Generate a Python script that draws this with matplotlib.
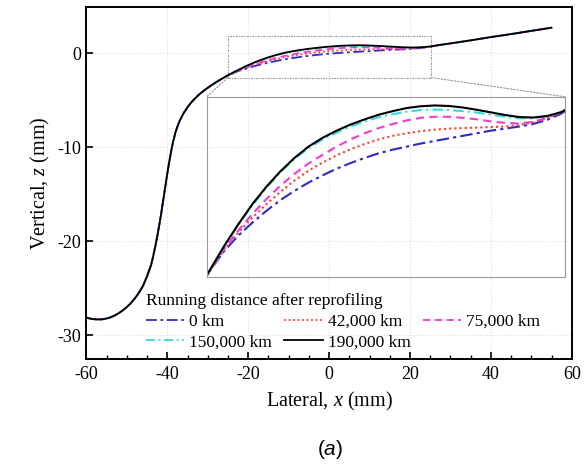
import numpy as np
import matplotlib
matplotlib.use("Agg")
import matplotlib.pyplot as plt
from matplotlib.patches import Rectangle, ConnectionPatch
from matplotlib.ticker import MultipleLocator

plt.rcParams['font.family'] = ['Liberation Serif', 'DejaVu Serif']
plt.rcParams['mathtext.fontset'] = 'custom'
plt.rcParams['mathtext.rm'] = 'Liberation Serif'
plt.rcParams['mathtext.it'] = 'Liberation Serif:italic'
plt.rcParams['mathtext.sf'] = 'Liberation Sans:italic'
plt.rcParams['axes.unicode_minus'] = False

# flange side, identical for all profiles
x_flange = [-60, -59, -58, -57, -56, -55, -54, -53, -52, -51, -50, -49, -48, -47,
            -46, -45, -44, -43.5, -43, -42.5, -42, -41.5, -41, -40.5, -40, -39.5,
            -39, -38.5, -38, -37.5, -37, -36, -35, -34, -33, -32, -31, -30, -29,
            -28, -27, -26]
z_flange = [-28.10, -28.22, -28.28, -28.30, -28.28, -28.20, -28.07, -27.88, -27.63,
            -27.33, -26.98, -26.56, -26.05, -25.45, -24.72, -23.70, -22.50, -21.60,
            -20.60, -19.50, -18.30, -17.00, -15.60, -14.20, -12.80, -11.50, -10.30,
            -9.30, -8.45, -7.80, -7.25, -6.40, -5.75, -5.20, -4.75, -4.35, -4.00,
            -3.69, -3.39, -3.11, -2.85, -2.60]

# tread, where the profiles differ
x_tread = [-25, -23, -21, -19, -17, -15, -13, -11, -9, -7, -5, -3, -1, 1, 3, 5,
           7, 9, 11, 13, 15, 17, 19, 21, 23, 25]
z_0km = [-2.37, -2.00, -1.70, -1.45, -1.22, -1.01, -0.83, -0.67, -0.53, -0.40,
         -0.29, -0.19, -0.10, -0.03, 0.03, 0.09, 0.14, 0.19, 0.24, 0.29, 0.34,
         0.38, 0.42, 0.47, 0.55, 0.67]
z_42k = [-2.37, -1.98, -1.64, -1.35, -1.09, -0.85, -0.63, -0.44, -0.28, -0.14,
         -0.02, 0.08, 0.17, 0.24, 0.29, 0.33, 0.36, 0.38, 0.39, 0.40, 0.41, 0.42,
         0.45, 0.50, 0.58, 0.69]
z_75k = [-2.37, -1.96, -1.60, -1.28, -0.99, -0.73, -0.50, -0.30, -0.13, 0.03,
         0.17, 0.29, 0.39, 0.47, 0.54, 0.59, 0.61, 0.61, 0.59, 0.56, 0.52, 0.49,
         0.48, 0.51, 0.59, 0.70]
z_150k = [-2.37, -1.91, -1.49, -1.11, -0.77, -0.47, -0.21, 0.0, 0.17, 0.30, 0.42,
          0.52, 0.60, 0.66, 0.71, 0.74, 0.75, 0.74, 0.72, 0.69, 0.65, 0.61, 0.58,
          0.58, 0.62, 0.70]
z_190k = [-2.36, -1.90, -1.48, -1.09, -0.75, -0.45, -0.19, 0.03, 0.20, 0.34, 0.46,
          0.56, 0.65, 0.72, 0.78, 0.815, 0.83, 0.82, 0.79, 0.745, 0.695, 0.645,
          0.605, 0.595, 0.625, 0.70]

# field side, identical for all profiles
x_field = [27, 30, 33, 36, 40, 45, 50, 55]
z_field = [0.84, 1.03, 1.22, 1.42, 1.70, 2.02, 2.36, 2.70]

labels = ['0 km', '42,000 km', '75,000 km', '150,000 km', '190,000 km']
colors = ['#2c2cc4', '#ff3b30', '#f03cd0', '#3ad8d8', 'black']
styles = [(0, (6, 2, 1.5, 2)), (0, (1, 1.5)), (0, (4, 2.5)), (0, (5, 2, 1, 2)), '-']

x_mm = x_flange + x_tread + x_field
tread = [z_0km, z_42k, z_75k, z_150k, z_190k]
profiles = [z_flange + t + z_field for t in tread]

fig = plt.figure(figsize=(5.84, 4.65), dpi=100)
ax = fig.add_axes([0.148, 0.228, 0.831, 0.757])

lines = []
for z, lab, c, ls in zip(profiles, labels, colors, styles):
    ln, = ax.plot(x_mm, z, color=c, linestyle=ls, lw=1.3, label=lab)
    lines.append(ln)

ax.set_xlim(-60, 60)
ax.set_ylim(-32.5, 4.9)
ax.set_xticks([-60, -40, -20, 0, 20, 40, 60])
ax.set_yticks([-30, -20, -10, 0])
ax.xaxis.set_minor_locator(MultipleLocator(5))
ax.tick_params(direction='in', which='major', length=5, width=1.2, labelsize=13)
ax.tick_params(direction='in', which='minor', length=3, width=1)
ax.tick_params(axis='x', pad=5)
ax.grid(True, color='#dddddd', linestyle=':', lw=0.8)
for s in ax.spines.values():
    s.set_linewidth(1.4)
ax.set_xlabel(r'Lateral, $\it{x}$ (mm)', fontsize=14.5, labelpad=5)
ax.set_ylabel(r'Vertical, $\it{z}$ (mm)', fontsize=14.5, labelpad=4)

# zoomed region marker
box_ls = (0, (2, 1, 1, 1))
ax.add_patch(Rectangle((-25, -2.6), 50.2, 4.4, edgecolor='#999999',
                       facecolor='none', lw=0.8, linestyle=box_ls))

# inset
axins = fig.add_axes([0.354, 0.405, 0.613, 0.387])
axins.patch.set_alpha(0)
for z, c, ls in zip(profiles, colors, styles):
    axins.plot(x_mm, z, color=c, linestyle=ls, lw=1.5)
axins.set_xlim(-25.5, 25.5)
axins.set_ylim(-2.5, 1.0)
axins.set_xticks([])
axins.set_yticks([])
for s in axins.spines.values():
    s.set_edgecolor('#999999')
    s.set_linewidth(0.8)
    s.set_linestyle(box_ls)

for xa, xb in [(-25, 0), (25.2, 1)]:
    con = ConnectionPatch(xyA=(xa, -2.6), coordsA='data', axesA=ax,
                          xyB=(xb, 1), coordsB='axes fraction', axesB=axins,
                          color='#999999', lw=0.8, linestyle=(0, (1.5, 1.5)))
    fig.add_artist(con)

order = [0, 3, 1, 4, 2]
leg = ax.legend([lines[i] for i in order], [labels[i] for i in order],
                title='Running distance after reprofiling', ncol=3,
                loc='lower left', bbox_to_anchor=(0.105, 0.0), frameon=False,
                fontsize=12.5, title_fontsize=12.5, handlelength=2.2,
                handletextpad=0.3, columnspacing=0.7, labelspacing=0.25,
                borderaxespad=0.1, alignment='left')

fig.text(0.565, 0.022, r'($\mathsf{a}$)', fontsize=15, family='Liberation Sans', ha='center')

fig.savefig('out.png', dpi=100)
